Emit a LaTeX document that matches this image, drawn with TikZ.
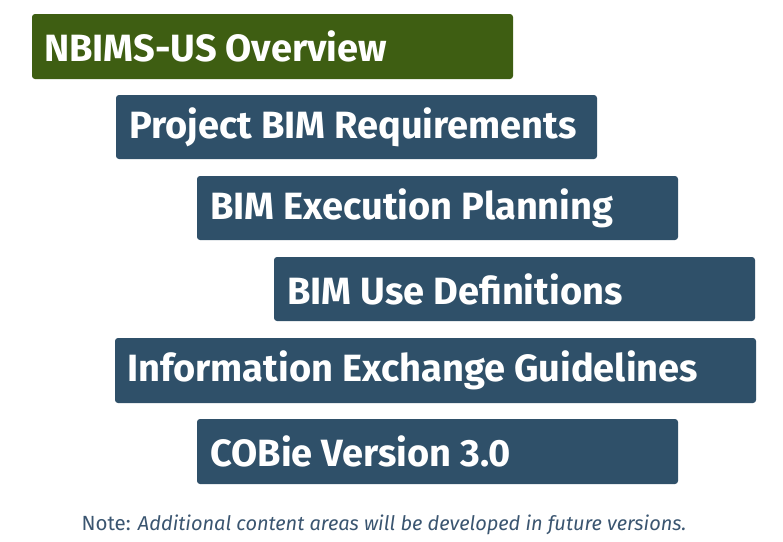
\documentclass[tikz,border=0pt]{standalone}
\usepackage{fontspec}
\setmainfont{Fira Sans}
\definecolor{bx}{HTML}{2F5069}
\definecolor{gr}{HTML}{3E5E12}
\definecolor{nt}{HTML}{3A5570}
\begin{document}
\begin{tikzpicture}[x=1pt,y=-1pt,
 bar/.style={rounded corners=3pt,text=white,font=\fontsize{38}{41}\selectfont\bfseries,anchor=west,inner sep=0pt}]
\useasboundingbox (0,0) rectangle (783,541);
\fill[gr,rounded corners=3pt] (32,14) rectangle (513,79);
\node[bar] (t1) at (44,46.5) {NBIMS-US Overview};
\fill[bx,rounded corners=3pt] (116,95) rectangle (597,159);
\node[bar] (t2) at (129,127) {Project BIM Requirements};
\fill[bx,rounded corners=3pt] (197,176) rectangle (678,240);
\node[bar] (t3) at (210,208) {BIM Execution Planning};
\fill[bx,rounded corners=3pt] (274,257) rectangle (755,321);
\node[bar] (t4) at (287,289) {BIM Use Definitions};
\fill[bx,rounded corners=3pt] (115,338) rectangle (756,403);
\node[bar] (t5) at (127,370.5) {Information Exchange Guidelines};
\fill[bx,rounded corners=3pt] (197,419) rectangle (678,484);
\node[bar] (t6) at (210,451.5) {COBie Version 3.0};
\node[text=nt,font=\fontsize{20.5}{24}\selectfont] (note) at (384,525) {Note: \textit{\fontsize{20}{22}\selectfont Additional content areas will be developed in future versions.}};
\end{tikzpicture}
\end{document}
